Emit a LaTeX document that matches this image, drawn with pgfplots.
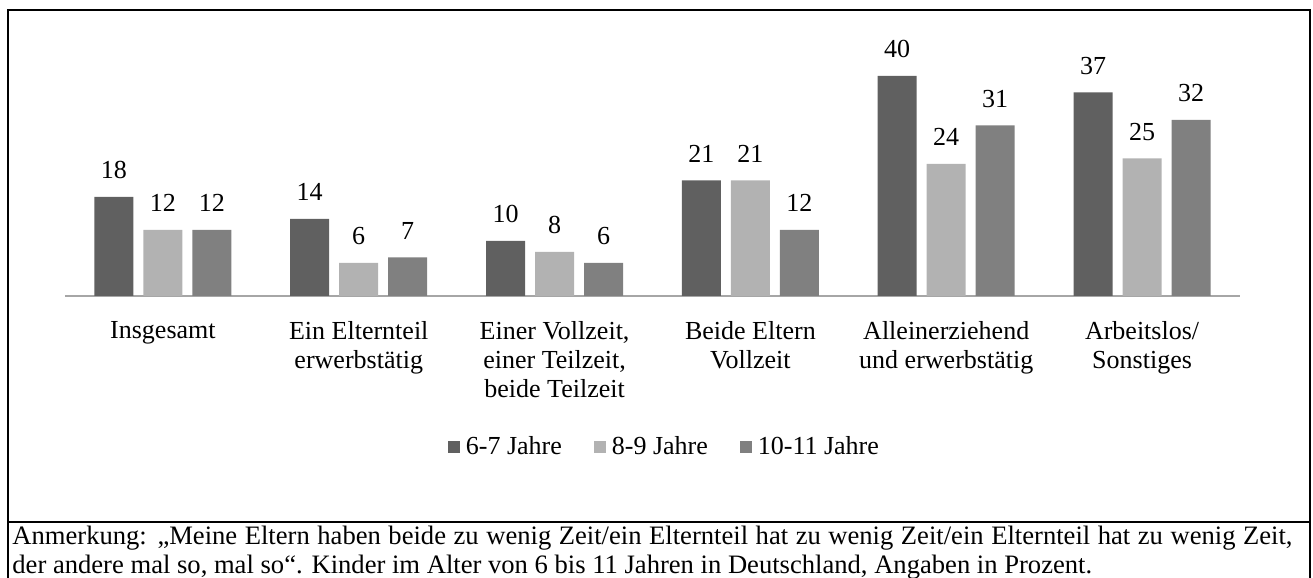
\documentclass[border=0pt]{standalone}
\usepackage{fontspec}
\setmainfont{Liberation Serif}
\usepackage{pgfplots}
\pgfplotsset{compat=1.18}
\definecolor{cA}{HTML}{606060}
\definecolor{cB}{HTML}{B2B2B2}
\definecolor{cC}{HTML}{808080}
\definecolor{axg}{HTML}{A6A6A6}
\begin{document}
\begin{tikzpicture}[x=1pt,y=1pt]
\useasboundingbox (0,0) rectangle (656.5,289);
\draw[line width=1pt] (4,0) -- (4,284) -- (655,284) -- (655,0);
\draw[line width=1pt] (4,28) -- (655,28);
\node[anchor=base west, inner sep=0pt, font=\fontsize{13.3}{14.5}\selectfont] at (6,16.5) {\makebox[640pt][s]{Anmerkung: „Meine Eltern haben beide zu wenig Zeit/ein Elternteil hat zu wenig Zeit/ein Elternteil hat zu wenig Zeit,}};
\node[anchor=base west, inner sep=0pt, font=\fontsize{13.3}{14.5}\selectfont] at (6,2) {der andere mal so, mal so“. Kinder im Alter von 6 bis 11 Jahren in Deutschland, Angaben in Prozent.};
\begin{axis}[
 at={(32.5pt,141pt)}, anchor=south west,
 scale only axis, width=587.5pt, height=123.75pt,
 xmin=-0.5, xmax=5.5, ymin=0, ymax=45,
 ybar=5pt, bar width=19.5pt,
 axis x line*=bottom, axis y line=none,
 x axis line style={draw=axg, line width=0.8pt},
 xtick={0,...,5},
 xticklabels={Insgesamt,{Ein Elternteil\\erwerbstätig},{Einer Vollzeit,\\einer Teilzeit,\\beide Teilzeit},{Beide Eltern\\Vollzeit},{Alleinerziehend\\und erwerbstätig},{Arbeitslos/\\Sonstiges}},
 major tick length=0pt,
 xticklabel style={font=\fontsize{13}{14.5}\selectfont, align=center},
 xticklabel shift=9pt,
 /pgf/number format/assume math mode=true,
 nodes near coords,
 every node near coord/.append style={font=\fontsize{13}{14.5}\selectfont, yshift=5.5pt, color=black},
 legend columns=3,
 legend style={draw=none, at={(0.511,-0.61)}, anchor=center, font=\fontsize{13}{14.5}\selectfont,
   /tikz/every even column/.append style={column sep=14pt},
   /tikz/every odd column/.append style={column sep=1pt}},
 legend image code/.code={\fill[#1] (0pt,-3pt) rectangle (6pt,3pt);},
 clip=false,
]
\addplot[fill=cA, draw=none] coordinates {(0,18) (1,14) (2,10) (3,21) (4,40) (5,37)};
\addplot[fill=cB, draw=none] coordinates {(0,12) (1,6) (2,8) (3,21) (4,24) (5,25)};
\addplot[fill=cC, draw=none] coordinates {(0,12) (1,7) (2,6) (3,12) (4,31) (5,32)};
\legend{6-7 Jahre, 8-9 Jahre, 10-11 Jahre}
\end{axis}
\end{tikzpicture}
\end{document}
